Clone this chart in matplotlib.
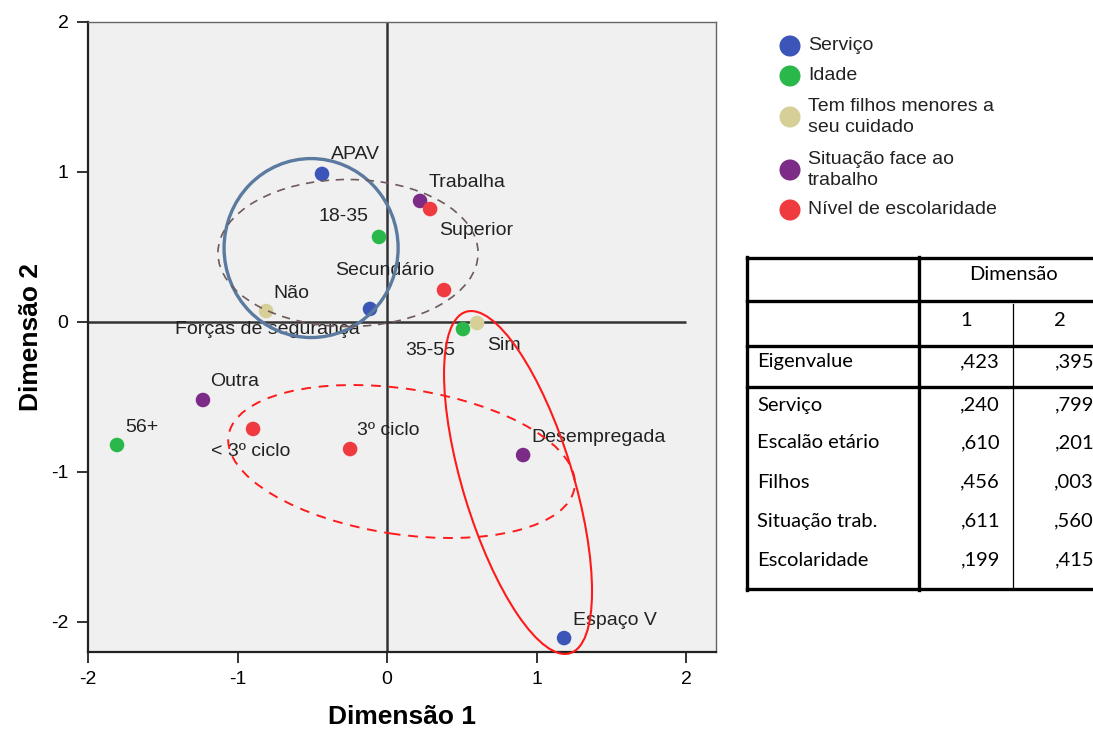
import matplotlib.pyplot as plt
from matplotlib.patches import Ellipse

plt.rcParams['font.family'] = ['Liberation Sans', 'DejaVu Sans']
plt.rcParams['axes.unicode_minus'] = False

# category quantifications on dimension 1 / dimension 2
servico_labels = ['APAV', 'Forças de segurança', 'Espaço V']
servico_x = [-0.435, -0.114, 1.184]
servico_y = [0.987, 0.087, -2.107]

idade_labels = ['18-35', '35-55', '56+']
idade_x = [-0.054, 0.508, -1.806]
idade_y = [0.567, -0.047, -0.820]

filhos_labels = ['Não', 'Sim']
filhos_x = [-0.809, 0.602]
filhos_y = [0.073, -0.007]

trabalho_labels = ['Trabalha', 'Outra', 'Desempregada']
trabalho_x = [0.221, -1.231, 0.910]
trabalho_y = [0.807, -0.520, -0.887]

escolaridade_labels = ['Superior', 'Secundário', '< 3º ciclo', '3º ciclo']
escolaridade_x = [0.288, 0.381, -0.896, -0.247]
escolaridade_y = [0.753, 0.213, -0.713, -0.847]

legend_labels = ['Serviço', 'Idade', 'Tem filhos menores a\nseu cuidado',
                 'Situação face ao\ntrabalho', 'Nível de escolaridade']
colors = ['#3b55b8', '#2bb84b', '#d6cf98', '#7c2b86', '#ef3b40']

# discrimination measures table
table_rows = ['Eigenvalue', 'Serviço', 'Escalão etário', 'Filhos',
              'Situação trab.', 'Escolaridade']
dim1_values = [',423', ',240', ',610', ',456', ',611', ',199']
dim2_values = [',395', ',799', ',201', ',003', ',560', ',415']

# where each label sits relative to its point (pixels, alignment)
label_place = {
    'APAV': (9, 19, 'left'),
    'Forças de segurança': (-103, -21, 'center'),
    'Espaço V': (9, 18, 'left'),
    '18-35': (-10, 20, 'right'),
    '35-55': (-8, -21, 'right'),
    '56+': (8, 18, 'left'),
    'Não': (7, 18, 'left'),
    'Sim': (10, -22, 'left'),
    'Trabalha': (9, 18, 'left'),
    'Outra': (7, 19, 'left'),
    'Desempregada': (8, 18, 'left'),
    'Superior': (9, -21, 'left'),
    'Secundário': (-10, 20, 'right'),
    '< 3º ciclo': (-2, -23, 'center'),
    '3º ciclo': (7, 19, 'left'),
}

groups = [
    (servico_labels, servico_x, servico_y),
    (idade_labels, idade_x, idade_y),
    (filhos_labels, filhos_x, filhos_y),
    (trabalho_labels, trabalho_x, trabalho_y),
    (escolaridade_labels, escolaridade_x, escolaridade_y),
]

fig = plt.figure(figsize=(10.93, 7.31), dpi=100)
ax = fig.add_axes([88 / 1093, 79 / 731, 628 / 1093, 630 / 731])
ax.set_facecolor('#f0f0f0')
ax.set_xlim(-2, 2.2)
ax.set_ylim(-2.2, 2)
ax.set_xticks([-2, -1, 0, 1, 2])
ax.set_yticks([-2, -1, 0, 1, 2])
ax.tick_params(labelsize=14, length=8, width=1.4, color='#333333', pad=6)

for side in ['left', 'bottom']:
    ax.spines[side].set_linewidth(1.6)
    ax.spines[side].set_color('#222222')
for side in ['top', 'right']:
    ax.spines[side].set_linewidth(1.0)
    ax.spines[side].set_color('#666666')

ax.axvline(0, color='#333333', lw=1.8, zorder=1)
ax.hlines(0, -2, 2, color='#333333', lw=1.8, zorder=1)

for (labels, xs, ys), c in zip(groups, colors):
    ax.scatter(xs, ys, s=110, color=c, edgecolors='none', zorder=3)
    for lab, x, y in zip(labels, xs, ys):
        dx, dy, ha = label_place[lab]
        ax.annotate(lab, (x, y), xytext=(dx, dy), textcoords='offset pixels',
                    ha=ha, va='center', fontsize=14, color='#222222', zorder=4)

# grouping ellipses
ax.add_patch(Ellipse((-0.508, 0.493), 1.164, 1.193, fill=False,
                     ec='#5b7aa0', lw=2.4, zorder=5))
ax.add_patch(Ellipse((-0.261, 0.46), 1.74, 0.98, fill=False,
                     ec='#6e5a5a', lw=1.2, ls=(0, (5, 4)), zorder=5))
ax.add_patch(Ellipse((0.097, -0.93), 2.34, 0.97, angle=-8.5, fill=False,
                     ec='#ff1a1a', lw=1.4, ls=(0, (5, 4)), zorder=5))
ax.add_patch(Ellipse((0.876, -1.07), 0.736, 2.38, angle=17, fill=False,
                     ec='#ff1a1a', lw=1.5, zorder=5, clip_on=False))

ax.set_xlabel('Dimensão 1', fontsize=19, fontweight='bold', labelpad=12)
ax.set_ylabel('Dimensão 2', fontsize=19, fontweight='bold', labelpad=6)

# overlay in pixel units for the legend and the table
ov = fig.add_axes([0, 0, 1, 1], zorder=10)
ov.set_xlim(0, 1093)
ov.set_ylim(731, 0)
ov.axis('off')
ov.patch.set_alpha(0)

legend_y = [46, 76, 117, 170, 210]
for lab, c, y in zip(legend_labels, colors, legend_y):
    ov.scatter([790], [y], s=230, color=c, edgecolors='none')
    ov.text(808, y, lab, fontsize=14, va='center', ha='left',
            color='#222222', linespacing=1.35)

thick = 2.4
thin = 0.9
tx0, tx1 = 747, 1100
ov.plot([tx0, tx1], [258, 258], color='black', lw=thick)
ov.plot([tx0, tx1], [589, 589], color='black', lw=thick)
ov.plot([tx0, tx0], [257, 590], color='black', lw=thick)
ov.plot([919, 919], [257, 590], color='black', lw=thick)
for y in [301, 346, 387]:
    ov.plot([tx0, tx1], [y, y], color='black', lw=thick)
ov.plot([1013, 1013], [304, 589], color='black', lw=thin)

tfont = dict(family=['Lato', 'DejaVu Sans'], fontsize=14.5, color='black')
ov.text(1013, 275, 'Dimensão', ha='center', va='center', **tfont)
ov.text(966, 320, '1', ha='center', va='center', **tfont)
ov.text(1060, 320, '2', ha='center', va='center', **tfont)
row_y = [362, 405, 443, 482, 521, 560]
for lab, v1, v2, y in zip(table_rows, dim1_values, dim2_values, row_y):
    ov.text(757, y, lab, ha='left', va='center', **tfont)
    ov.text(1000, y, v1, ha='right', va='center', **tfont)
    ov.text(1094, y, v2, ha='right', va='center', **tfont)

fig.savefig('out.png', dpi=100)
